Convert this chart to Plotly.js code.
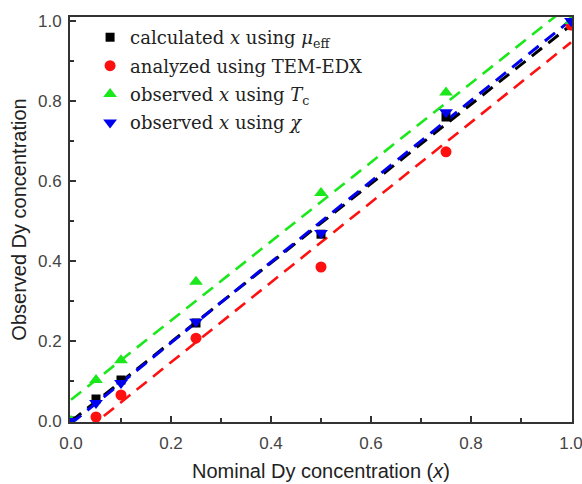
<!DOCTYPE html>
<html>
<head>
<meta charset="utf-8">
<script src="https://cdn.plot.ly/plotly-3.0.1.min.js"></script>
<style>html,body{margin:0;padding:0;background:#fff;}#chart{width:582px;height:484px;}</style>
</head>
<body>
<div id="chart"></div>
<script>
// Data
const nominalX = [0, 0.05, 0.1, 0.25, 0.5, 0.75, 1.0];
const calcMuEff = [0, 0.055, 0.1025, 0.245, 0.467, 0.76, 0.99];
const temX = [0.05, 0.1, 0.25, 0.5, 0.75, 1.0];
const temEDX = [0.01, 0.065, 0.207, 0.385, 0.673, 0.99];
const obsTc = [0, 0.1025, 0.152, 0.348, 0.57, 0.821, 1.0];
const obsChi = [0, 0.045, 0.095, 0.248, 0.47, 0.772, 1.0];
const xTickVals = [0, 0.2, 0.4, 0.6, 0.8, 1.0];
const xTickText = ['0.0', '0.2', '0.4', '0.6', '0.8', '1.0'];

function linfit(xs, ys) {
  const n = xs.length;
  const mx = xs.reduce((a, b) => a + b, 0) / n;
  const my = ys.reduce((a, b) => a + b, 0) / n;
  let sxx = 0, sxy = 0;
  for (let i = 0; i < n; i++) { sxx += (xs[i] - mx) ** 2; sxy += (xs[i] - mx) * (ys[i] - my); }
  const m = sxy / sxx;
  return { m: m, b: my - m * mx };
}
function fitLine(xs, ys, color, w) {
  const f = linfit(xs, ys);
  const lx = [0, 1];
  return { x: lx, y: lx.map(v => f.m * v + f.b), mode: 'lines', showlegend: false, hoverinfo: 'skip',
           line: { color: color, width: w, dash: '13px,8px' } };
}

const cBlack = '#000000', cRed = '#ff1010', cGreen = '#1be81b', cBlue = '#0000f0';

const traces = [
  fitLine(nominalX, calcMuEff, cBlack, 3),
  fitLine(temX, temEDX, cRed, 2.6),
  fitLine(nominalX, obsTc, cGreen, 2.6),
  fitLine(nominalX, obsChi, cBlue, 3),
  { x: nominalX, y: calcMuEff, mode: 'markers', name: 'calculated <i>x</i> using <i>μ</i><sub>eff</sub>', legendgroup: 'a',
    marker: { symbol: 'square', size: 9, color: cBlack } },
  { x: temX, y: temEDX, mode: 'markers', name: 'analyzed using TEM-EDX', legendgroup: 'b',
    marker: { symbol: 'circle', size: 11, color: cRed } },
  { x: nominalX, y: obsTc, mode: 'markers', name: 'observed <i>x</i> using <i>T</i><sub>c</sub>', legendgroup: 'c',
    marker: { symbol: 'triangle-up', size: 12, color: cGreen } },
  { x: nominalX, y: obsChi, mode: 'markers', name: 'observed <i>x</i> using <i>χ</i>', legendgroup: 'd',
    marker: { symbol: 'triangle-down', size: 12, color: cBlue } }
];

const axisCommon = {
  showgrid: false, zeroline: false, showline: true, linecolor: '#333', linewidth: 2, mirror: true,
  ticks: 'inside', ticklen: 6, tickwidth: 1.5, tickcolor: '#333',
  tickfont: { family: 'Liberation Sans, Arial, sans-serif', size: 17, color: '#444' },
  minor: { ticks: 'inside', ticklen: 4, tickwidth: 1.2, tickcolor: '#333', dtick: 0.1 }
};

const layout = {
  width: 582, height: 484,
  margin: { l: 70, r: 10, t: 17, b: 62 },
  paper_bgcolor: '#fff', plot_bgcolor: '#fff',
  showlegend: true,
  legend: { x: 0.04, y: 0.995, xanchor: 'left', yanchor: 'top', bgcolor: 'rgba(0,0,0,0)',
            font: { family: 'DejaVu Serif, serif', size: 18, color: '#222' }, tracegroupgap: 2 },
  xaxis: Object.assign({}, axisCommon, {
    range: [-0.002, 1.002], tickvals: xTickVals, ticktext: xTickText, ticklabelstandoff: 5,
    ticklabeloverflow: 'allow',
    title: { text: 'Nominal Dy concentration (<i>x</i>)', font: { family: 'Liberation Sans, Arial, sans-serif', size: 20, color: '#222' }, standoff: 12 }
  }),
  yaxis: Object.assign({}, axisCommon, {
    range: [-0.0025, 1.01], tickvals: xTickVals, ticktext: xTickText, ticklabelstandoff: 3,
    title: { text: 'Observed Dy concentration', font: { family: 'Liberation Sans, Arial, sans-serif', size: 20, color: '#222' }, standoff: 6 }
  })
};

Plotly.newPlot('chart', traces, layout, { displayModeBar: false, staticPlot: true });
</script>
</body>
</html>
